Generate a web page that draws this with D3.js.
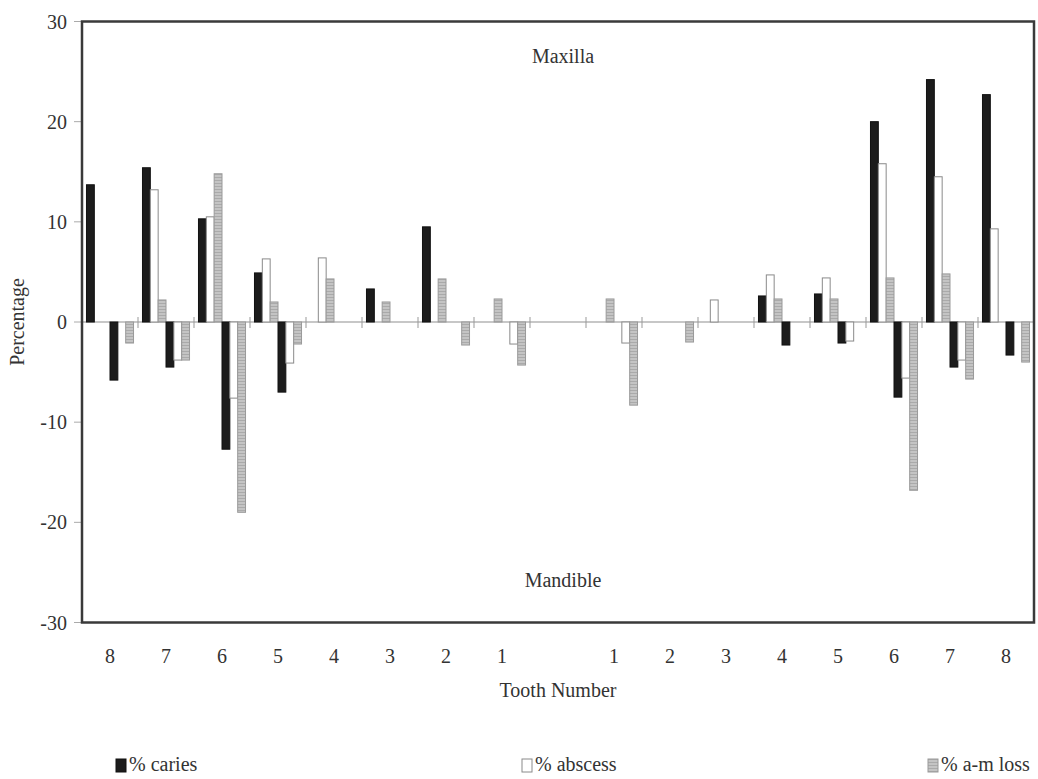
<!DOCTYPE html>
<html>
<head>
<meta charset="utf-8">
<script src="https://cdn.jsdelivr.net/npm/d3@7"></script>
<style>
  html, body { margin: 0; padding: 0; background: #fff; }
  svg { display: block; }
  text { font-family: "Liberation Serif", "DejaVu Serif", serif; fill: #333; }
</style>
</head>
<body>
<svg id="chart" width="1038" height="779"></svg>
<script>
// ---- Data ----
const toothLabels = ["8","7","6","5","4","3","2","1","","1","2","3","4","5","6","7","8"];
const maxillaCaries  = [13.7, 15.4, 10.3, 4.9, 0,   3.3, 9.5, 0,   0, 0,   0,   0,   2.6, 2.8, 20.0, 24.2, 22.7];
const maxillaAbscess = [0,    13.2, 10.5, 6.3, 6.4, 0,   0,   0,   0, 0,   0,   2.2, 4.7, 4.4, 15.8, 14.5, 9.3];
const maxillaAmLoss  = [0,    2.2,  14.8, 2.0, 4.3, 2.0, 4.3, 2.3, 0, 2.3, 0,   0,   2.3, 2.3, 4.4,  4.8,  0];
const mandibleCaries  = [-5.8, -4.5, -12.7, -7.0, 0, 0, 0,    0,    0, 0,    0,    0, -2.3, -2.1, -7.5,  -4.5, -3.3];
const mandibleAbscess = [0,    -3.8, -7.6,  -4.1, 0, 0, 0,    -2.2, 0, -2.1, 0,    0, 0,    -1.9, -5.6,  -3.8, 0];
const mandibleAmLoss  = [-2.1, -3.8, -19.0, -2.2, 0, 0, -2.3, -4.3, 0, -8.3, -2.0, 0, 0,    0,    -16.8, -5.7, -4.0];
const yTicks = [-30, -20, -10, 0, 10, 20, 30];
const legendLabels = ["% caries", "% abscess", "% a-m loss"];

// series order within each slot
const seriesKeys = ["maxCaries","maxAbscess","maxAmLoss","manCaries","manAbscess","manAmLoss"];
const seriesData = {
  maxCaries: maxillaCaries, maxAbscess: maxillaAbscess, maxAmLoss: maxillaAmLoss,
  manCaries: mandibleCaries, manAbscess: mandibleAbscess, manAmLoss: mandibleAmLoss
};
const seriesType = {
  maxCaries: 0, maxAbscess: 1, maxAmLoss: 2,
  manCaries: 0, manAbscess: 1, manAmLoss: 2
};

// ---- Layout ----
const svg = d3.select("#chart");
const margin = { left: 82, right: 4, top: 21.5, bottom: 156.5 };
const W = 1038, H = 779;
const plotL = margin.left, plotR = W - margin.right, plotT = margin.top, plotB = H - margin.bottom;

const defs = svg.append("defs");
const pat = defs.append("pattern").attr("id", "hatch").attr("patternUnits", "userSpaceOnUse")
  .attr("width", 4).attr("height", 3);
pat.append("rect").attr("width", 4).attr("height", 3).attr("fill", "#c4c4c4");
pat.append("rect").attr("width", 4).attr("height", 1).attr("fill", "#aaaaaa");

const fills = ["#1c1c1c", "#ffffff", "url(#hatch)"];
const strokes = ["#111", "#8a8a8a", "#9a9a9a"];

const x = d3.scaleBand().domain(d3.range(toothLabels.length)).range([plotL, plotR])
  .paddingInner(0.16).paddingOuter(0.08);
const xs = d3.scaleBand().domain(seriesKeys).range([0, x.bandwidth()]).padding(0);
const y = d3.scaleLinear().domain([-30, 30]).range([plotB, plotT]);

// y ticks (outside, left)
svg.append("g").selectAll("line").data(yTicks).join("line")
  .attr("x1", plotL - 8).attr("x2", plotL)
  .attr("y1", d => y(d)).attr("y2", d => y(d))
  .attr("stroke", "#aaa").attr("stroke-width", 1);
svg.append("g").selectAll("text").data(yTicks).join("text")
  .attr("x", plotL - 15).attr("y", d => y(d) + 7)
  .attr("text-anchor", "end").attr("font-size", 20).text(d => d);

// zero line
svg.append("line").attr("x1", plotL).attr("x2", plotR)
  .attr("y1", y(0)).attr("y2", y(0)).attr("stroke", "#b5b5b5").attr("stroke-width", 1.5);

// slot boundary ticks on zero line
const step = x.step();
const boundaries = d3.range(1, toothLabels.length).map(i => x(i) - step * x.paddingInner() / 2);
svg.append("g").selectAll("line").data(boundaries).join("line")
  .attr("x1", d => d).attr("x2", d => d)
  .attr("y1", y(0) - 5).attr("y2", y(0) + 6)
  .attr("stroke", "#999").attr("stroke-width", 1);

// bars
const barData = [];
toothLabels.forEach((t, i) => {
  seriesKeys.forEach(k => {
    const v = seriesData[k][i];
    if (v !== 0) barData.push({ i, k, v });
  });
});
svg.append("g").selectAll("rect").data(barData).join("rect")
  .attr("x", d => x(d.i) + xs(d.k))
  .attr("width", xs.bandwidth())
  .attr("y", d => Math.min(y(d.v), y(0)))
  .attr("height", d => Math.abs(y(d.v) - y(0)))
  .attr("fill", d => fills[seriesType[d.k]])
  .attr("stroke", d => strokes[seriesType[d.k]])
  .attr("stroke-width", 1);

// frame
svg.append("rect").attr("x", plotL).attr("y", plotT)
  .attr("width", plotR - plotL).attr("height", plotB - plotT)
  .attr("fill", "none").attr("stroke", "#3a3a3a").attr("stroke-width", 2.5);

// x category labels
svg.append("g").selectAll("text").data(toothLabels).join("text")
  .attr("x", (d, i) => x(i) + x.bandwidth() / 2)
  .attr("y", plotB + 40)
  .attr("text-anchor", "middle").attr("font-size", 20).text(d => d);

// annotations
const midX = (plotL + plotR) / 2 + 5;
svg.append("text").attr("x", midX).attr("y", 63).attr("text-anchor", "middle")
  .attr("font-size", 20).text("Maxilla");
svg.append("text").attr("x", midX).attr("y", 587).attr("text-anchor", "middle")
  .attr("font-size", 20).text("Mandible");

// axis titles
svg.append("text").attr("x", (plotL + plotR) / 2).attr("y", 697).attr("text-anchor", "middle")
  .attr("font-size", 20).text("Tooth Number");
svg.append("text").attr("transform", `translate(24, ${y(0)}) rotate(-90)`)
  .attr("text-anchor", "middle").attr("font-size", 20).text("Percentage");

// legend
const legendX = d3.scalePoint().domain(legendLabels).range([116, 928]);
const lg = svg.append("g").selectAll("g").data(legendLabels).join("g")
  .attr("transform", d => `translate(${legendX(d)}, 759)`);
lg.append("rect").attr("width", 10).attr("height", 13)
  .attr("fill", (d, i) => fills[i]).attr("stroke", (d, i) => strokes[i]).attr("stroke-width", 1);
lg.append("text").attr("x", 13).attr("y", 12).attr("font-size", 20).text(d => d);
</script>
</body>
</html>
